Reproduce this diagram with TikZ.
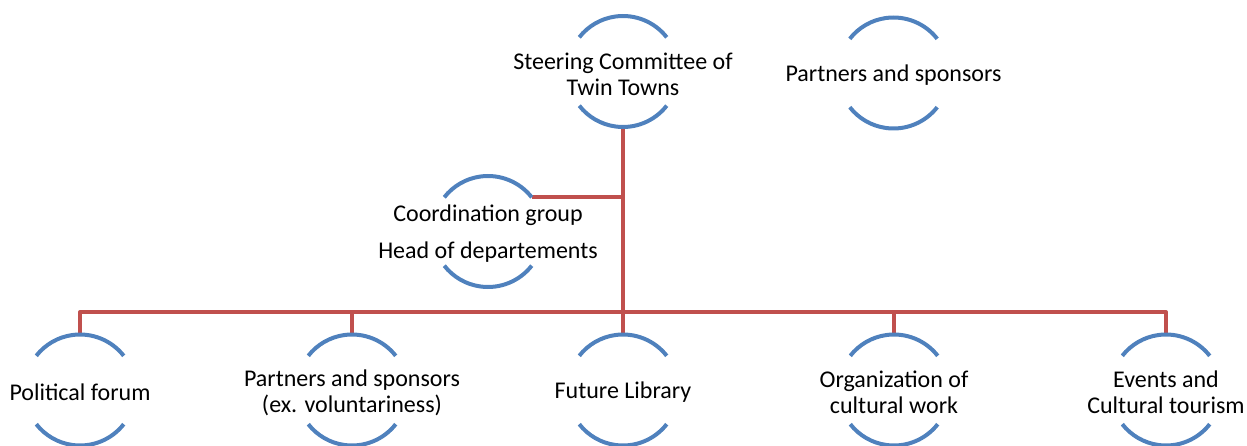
\documentclass[tikz,border=0pt]{standalone}
\usepackage{fontspec}
\setmainfont{Carlito}
\definecolor{ringblue}{HTML}{4F81BD}
\definecolor{linkred}{HTML}{C0504D}
\tikzset{
  unit/.style={align=center, font=\fontsize{24}{26}\selectfont, inner sep=0pt, yshift=-2.5pt},
  ring/.style={ringblue, line width=4pt},
  link/.style={linkred, line width=4pt, line join=round}
}
% upper and lower arc round a unit
\newcommand{\ringarcs}[1]{%
  \draw[ring]([yshift=2.5pt, shift={(38:55.5)}]#1.center) arc[start angle=38, end angle=142, radius=55.5];
  \draw[ring]([yshift=2.5pt, shift={(-38:55.5)}]#1.center) arc[start angle=-38, end angle=-142, radius=55.5];}
\begin{document}
\begin{tikzpicture}[x=1pt, y=1pt]
\useasboundingbox (0,0) rectangle (1247,445);
\node[unit](steering)at(623,373.5){Steering Committee of\\Twin Towns};
\node[unit](partners)at(893.5,372){Partners and sponsors};
\node[unit](coord)at(488,213.5){Coordination group\\[11pt]Head of departements};
\node[unit](political)at(80,55){Political forum};
\node[unit](voluntary)at(352,55){Partners and sponsors\\(ex. voluntariness)};
\node[unit](library)at(623,55){Future Library};
\node[unit](culture)at(894,55){Organization of\\cultural work};
\node[unit](events)at(1166,55){Events and\\Cultural tourism};
\coordinate (bus) at (623,133);

%links
\draw[link]([yshift=-53pt]steering.center) -- (bus);
\draw[link]([yshift=2.5pt, shift={(38:55.5)}]coord.center) coordinate (coord_tip) -- (coord_tip -| steering.center);
\draw[link]([yshift=58pt]political.center) |- (bus) -| ([yshift=58pt]events.center);
\foreach \n in {voluntary, library, culture}
  \draw[link]([yshift=58pt]\n.center) -- (\n.center |- bus);

%arcs
\foreach \n in {steering, partners, coord, political, voluntary, library, culture, events}
  {\ringarcs{\n}}
\end{tikzpicture}
\end{document}
